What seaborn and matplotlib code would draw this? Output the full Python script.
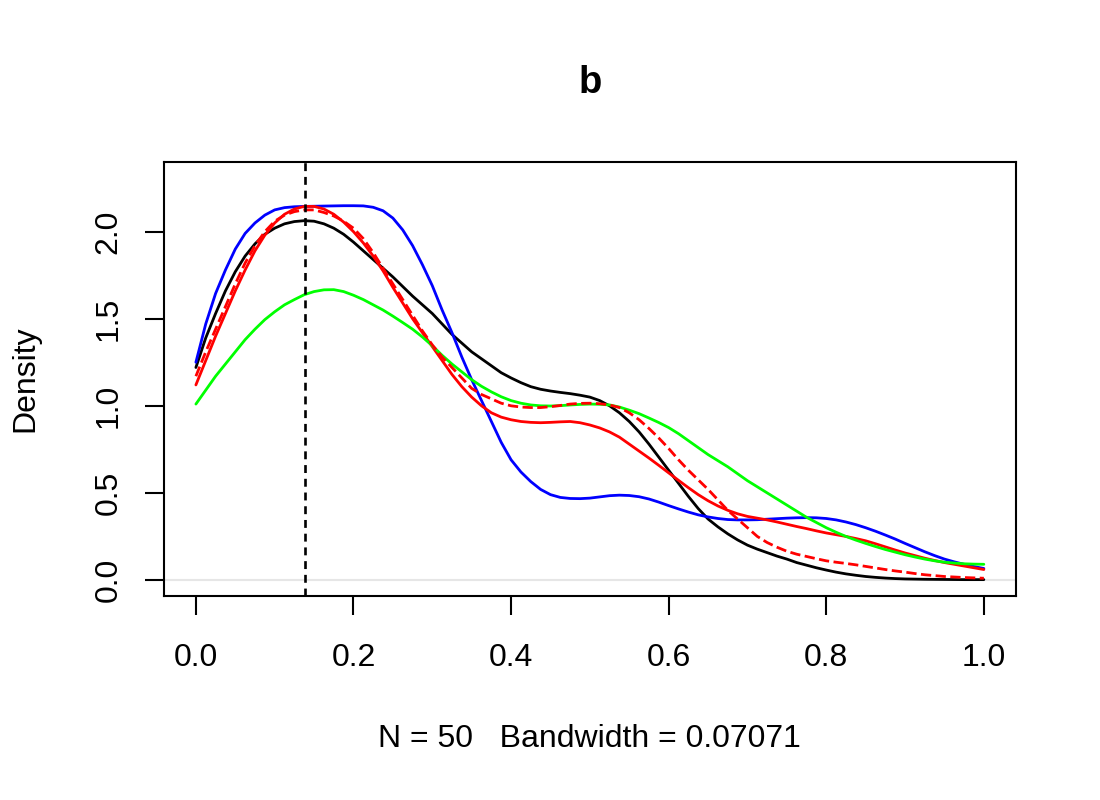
import pandas as pd
import seaborn as sns
import matplotlib.pyplot as plt

# density estimates, every 0.0125 from 0 to 1
x_grid = [round(i * 0.0125, 4) for i in range(81)]

black_curve = [
    1.22, 1.39, 1.53, 1.66, 1.77, 1.86, 1.93, 1.985, 2.02, 2.045,
    2.058, 2.063, 2.06, 2.045, 2.02, 1.985, 1.94, 1.89, 1.84, 1.79,
    1.74, 1.685, 1.63, 1.58, 1.53, 1.47, 1.41, 1.36, 1.31, 1.27,
    1.23, 1.19, 1.16, 1.133, 1.11, 1.095, 1.085, 1.077, 1.07, 1.061,
    1.05, 1.03, 1.00, 0.96, 0.91, 0.85, 0.78, 0.705, 0.63, 0.555,
    0.48, 0.41, 0.35, 0.305, 0.265, 0.23, 0.20, 0.177, 0.157, 0.137,
    0.12, 0.10, 0.085, 0.07, 0.057, 0.045, 0.035, 0.027, 0.02, 0.015,
    0.011, 0.008, 0.006, 0.005, 0.004, 0.0035, 0.003, 0.0025, 0.002, 0.002,
    0.002,
]

blue_curve = [
    1.25, 1.47, 1.645, 1.78, 1.90, 1.99, 2.05, 2.095, 2.125, 2.138,
    2.143, 2.145, 2.146, 2.147, 2.148, 2.149, 2.149, 2.148, 2.14, 2.12,
    2.078, 2.01, 1.92, 1.81, 1.69, 1.55, 1.42, 1.28, 1.15, 1.03,
    0.91, 0.79, 0.69, 0.62, 0.565, 0.52, 0.49, 0.474, 0.468, 0.467,
    0.47, 0.477, 0.484, 0.487, 0.485, 0.478, 0.465, 0.447, 0.427, 0.408,
    0.39, 0.374, 0.362, 0.353, 0.347, 0.345, 0.345, 0.346, 0.349, 0.352,
    0.355, 0.357, 0.358, 0.357, 0.353, 0.345, 0.333, 0.318, 0.30, 0.28,
    0.258, 0.235, 0.21, 0.186, 0.162, 0.14, 0.12, 0.104, 0.09, 0.077,
    0.066,
]

red_curve = [
    1.12, 1.26, 1.40, 1.53, 1.66, 1.78, 1.89, 1.98, 2.05, 2.10,
    2.13, 2.145, 2.145, 2.13, 2.10, 2.055, 2.00, 1.935, 1.86, 1.775,
    1.68, 1.59, 1.50, 1.42, 1.34, 1.26, 1.18, 1.11, 1.05, 1.00,
    0.96, 0.935, 0.92, 0.91, 0.905, 0.903, 0.905, 0.908, 0.91, 0.903,
    0.89, 0.873, 0.85, 0.82, 0.78, 0.74, 0.70, 0.658, 0.615, 0.572,
    0.53, 0.49, 0.455, 0.425, 0.40, 0.38, 0.365, 0.355, 0.345, 0.333,
    0.32, 0.307, 0.295, 0.282, 0.27, 0.26, 0.25, 0.238, 0.225, 0.208,
    0.19, 0.172, 0.155, 0.14, 0.125, 0.112, 0.10, 0.09, 0.08, 0.07,
    0.06,
]

green_curve = [
    1.01, 1.09, 1.17, 1.24, 1.31, 1.38, 1.44, 1.495, 1.54, 1.58,
    1.61, 1.638, 1.656, 1.666, 1.667, 1.656, 1.635, 1.61, 1.58, 1.55,
    1.515, 1.478, 1.44, 1.395, 1.345, 1.29, 1.24, 1.195, 1.15, 1.112,
    1.08, 1.052, 1.03, 1.015, 1.005, 1.0, 0.999, 1.001, 1.005, 1.008,
    1.01, 1.009, 1.005, 0.993, 0.975, 0.955, 0.93, 0.904, 0.875, 0.84,
    0.80, 0.76, 0.72, 0.685, 0.65, 0.61, 0.57, 0.535, 0.50, 0.465,
    0.43, 0.395, 0.36, 0.33, 0.30, 0.274, 0.25, 0.229, 0.21, 0.192,
    0.175, 0.16, 0.145, 0.132, 0.12, 0.11, 0.102, 0.097, 0.093, 0.091,
    0.09,
]

red_dashed_curve = [
    1.17, 1.31, 1.44, 1.57, 1.70, 1.82, 1.92, 2.00, 2.06, 2.095,
    2.115, 2.125, 2.125, 2.11, 2.09, 2.06, 2.02, 1.96, 1.88, 1.79,
    1.70, 1.61, 1.52, 1.43, 1.35, 1.28, 1.22, 1.16, 1.10, 1.065,
    1.04, 1.015, 1.0, 0.993, 0.99, 0.99, 0.995, 1.002, 1.01, 1.014,
    1.015, 1.012, 1.005, 0.99, 0.96, 0.92, 0.87, 0.815, 0.755, 0.69,
    0.63, 0.575, 0.52, 0.46, 0.40, 0.35, 0.30, 0.25, 0.215, 0.188,
    0.165, 0.148, 0.135, 0.122, 0.11, 0.102, 0.095, 0.087, 0.078, 0.069,
    0.06, 0.052, 0.045, 0.037, 0.03, 0.025, 0.02, 0.017, 0.014, 0.012,
    0.01,
]

mode_x = 0.138
title = "b"
x_label = "N = 50   Bandwidth = 0.07071"
y_label = "Density"
x_ticks = [0.0, 0.2, 0.4, 0.6, 0.8, 1.0]
y_ticks = [0.0, 0.5, 1.0, 1.5, 2.0]

sns.set_style("white")
plt.rcParams["font.family"] = ["Liberation Sans", "DejaVu Sans"]
plt.rcParams["font.size"] = 23
plt.rcParams["text.color"] = "black"
plt.rcParams["axes.labelcolor"] = "black"
plt.rcParams["xtick.color"] = "black"
plt.rcParams["ytick.color"] = "black"

fig = plt.figure(figsize=(11, 8), dpi=100)
ax = fig.add_axes([0.149, 0.255, 0.7745, 0.5425])

ax.axhline(0, color="#e6e6e6", lw=1.5, zorder=1)

curves = [
    (black_curve, "black", "-"),
    (blue_curve, "#0000ff", "-"),
    (red_curve, "#ff0000", "-"),
    (green_curve, "#00ff00", "-"),
    (red_dashed_curve, "#ff0000", "--"),
]
for values, color, ls in curves:
    df = pd.DataFrame({"x": x_grid, "density": values})
    line_kw = {"dashes": (3, 2.2)} if ls == "--" else {}
    sns.lineplot(data=df, x="x", y="density", color=color, linestyle=ls,
                 lw=2.0, ax=ax, zorder=3, **line_kw)

ax.axvline(mode_x, color="black", lw=1.9, linestyle=(0, (3, 2.2)), zorder=4)

ax.set_xlim(-0.0406, 1.0406)
ax.set_ylim(-0.092, 2.40)
ax.set_xticks(x_ticks)
ax.set_yticks(y_ticks)
ax.set_xticklabels([f"{t:.1f}" for t in x_ticks])
ax.set_yticklabels([f"{t:.1f}" for t in y_ticks], rotation=90, va="center")

for s in ax.spines.values():
    s.set_color("black")
    s.set_linewidth(1.5)
ax.tick_params(axis="both", direction="out", length=14, width=1.5,
               color="black", labelcolor="black", labelsize=23,
               bottom=True, left=True)
ax.tick_params(axis="x", pad=20)
ax.tick_params(axis="y", pad=15)

ax.set_title(title, fontsize=27.5, fontweight="bold", pad=50, color="black")
ax.set_xlabel(x_label, fontsize=23, va="baseline", color="black")
ax.xaxis.set_label_coords(0.5, -(747 - 596) / 434)
ax.set_ylabel(y_label, fontsize=23, va="baseline", color="black")
ax.yaxis.set_label_coords((33 - 164) / 852, 0.5)

fig.savefig("out.png", dpi=100)
